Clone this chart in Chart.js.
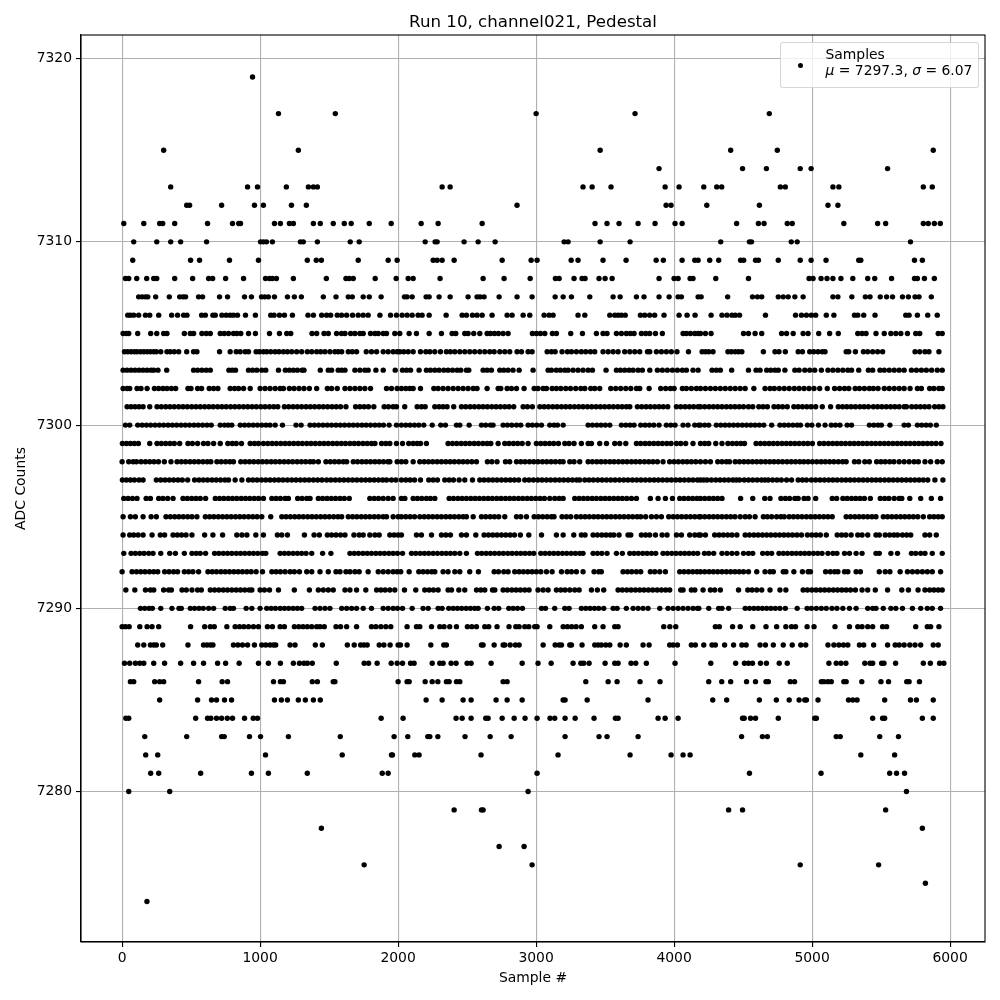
<!DOCTYPE html>
<html>
<head>
<meta charset="utf-8">
<script src="https://cdn.jsdelivr.net/npm/chart.js@4/dist/chart.umd.min.js"></script>
<style>
    html, body { margin: 0; padding: 0; background: #fff; }
    #wrap { position: relative; width: 1000px; height: 1000px; }
    #legend {
        position: absolute; left: 780px; top: 42px; width: 197px; height: 44px;
        border: 1px solid rgba(204, 204, 204, 0.8); border-radius: 3px;
        background: rgba(255, 255, 255, 0.8);
        font: 13.9px "DejaVu Sans", sans-serif; color: #000; line-height: 16px;
    }
    #legend .dot { position: absolute; left: 16.5px; top: 19.5px; width: 5.4px; height: 5.4px; border-radius: 50%; background: #000; }
    #legend .txt { position: absolute; left: 44.5px; top: 2.5px; white-space: nowrap; }
</style>
</head>
<body>
<div id="wrap">
    <canvas id="chart" width="1000" height="1000"></canvas>
    <div id="legend"><span class="dot"></span><div class="txt">Samples<br><i>μ</i> = 7297.3, <i>σ</i> = 6.07</div></div>
</div>
<script>
// Tick labels on the two axes
const xTicks = [0, 1000, 2000, 3000, 4000, 5000, 6000];
const yTicks = [7280, 7290, 7300, 7310, 7320];

// Sample numbers, one list per ADC count
const adc7319 = [945];
const adc7317 = [1133, 1545, 3000, 3717, 4690];
const adc7315 = [301, 1277, 3464, 4410, 4748, 5878];
const adc7314 = [3891, 4496, 4669, 4914, 4993, 5547];
const adc7313 = [352, 909, 981, 1190, 1350, 1386, 1415, 2319, 2377, 3340, 3406, 3543, 3935, 4036, 4215, 4309, 4345, 4770, 4806, 5151, 5194, 5806, 5871];
const adc7312 = [468, 489, 721, 959, 1024, 1227, 1335, 2862, 3942, 3978, 4237, 4618, 5115, 5187];
const adc7311 = [12, 157, 272, 294, 381, 619, 800, 845, 858, 1104, 1147, 1212, 1241, 1386, 1436, 1530, 1610, 1660, 1791, 1950, 2167, 2290, 2609, 3427, 3514, 3601, 3739, 3862, 4007, 4058, 4453, 4611, 4652, 4820, 4856, 5230, 5475, 5533, 5806, 5842, 5886, 5929];
const adc7310 = [84, 251, 352, 424, 612, 1003, 1024, 1046, 1089, 1292, 1313, 1415, 1653, 1718, 2196, 2268, 2283, 2478, 2580, 2703, 3203, 3232, 3464, 3681, 4338, 4546, 4561, 4849, 4892, 5713];
const adc7309 = [77, 496, 561, 778, 988, 1342, 1407, 1444, 1711, 1928, 1993, 2254, 2283, 2319, 2406, 2754, 2964, 3007, 3254, 3304, 3485, 3652, 3870, 3922, 4058, 4174, 4150, 4258, 4323, 4482, 4504, 4590, 4611, 4755, 4914, 4993, 5101, 5338, 5353, 5742, 5799];
const adc7308 = [24, 48, 106, 178, 229, 251, 381, 511, 627, 656, 750, 880, 1039, 1068, 1089, 1118, 1241, 1480, 1622, 1646, 1675, 1834, 1986, 2073, 2109, 2304, 2616, 2768, 2957, 3140, 3167, 3275, 3333, 3355, 3456, 3500, 3551, 3891, 4000, 4029, 4116, 4137, 4302, 4539, 4978, 5007, 5065, 5108, 5151, 5209, 5295, 5403, 5454, 5576, 5742, 5763, 5814, 5886];
const adc7307 = [120, 145, 169, 186, 243, 342, 417, 441, 460, 554, 583, 706, 764, 887, 937, 1010, 1034, 1060, 1104, 1198, 1248, 1299, 1458, 1550, 1639, 1668, 1747, 1791, 1877, 2046, 2065, 2102, 2203, 2225, 2297, 2377, 2507, 2572, 2594, 2623, 2732, 2862, 2971, 3138, 3196, 3256, 3389, 3558, 3609, 3727, 3782, 3891, 3964, 4029, 4053, 4174, 4196, 4388, 4568, 4604, 4635, 4755, 4791, 4827, 4875, 4935, 5151, 5187, 5288, 5386, 5420, 5494, 5540, 5583, 5655, 5698, 5746, 5775, 5864];
const adc7306 = [41, 60, 84, 120, 169, 200, 265, 359, 402, 446, 470, 576, 603, 658, 675, 723, 754, 783, 807, 836, 894, 966, 1077, 1101, 1140, 1176, 1234, 1347, 1386, 1446, 1482, 1511, 1559, 1590, 1627, 1670, 1711, 1747, 1783, 1868, 1945, 1988, 2029, 2065, 2102, 2145, 2174, 2225, 2348, 2464, 2495, 2539, 2572, 2609, 2681, 2790, 2826, 2906, 2954, 3058, 3094, 3123, 3304, 3353, 3534, 3570, 3594, 3618, 3646, 3756, 3787, 3823, 3859, 3927, 4036, 4094, 4152, 4268, 4347, 4383, 4419, 4443, 4474, 4662, 4880, 4923, 4959, 4995, 5026, 5103, 5158, 5307, 5331, 5374, 5456, 5679, 5703, 5763, 5838, 5907];
const adc7305 = [7, 31, 48, 113, 207, 251, 301, 325, 451, 494, 518, 578, 610, 639, 711, 740, 771, 807, 831, 860, 916, 966, 1068, 1140, 1193, 1222, 1376, 1410, 1463, 1494, 1554, 1590, 1615, 1656, 1687, 1723, 1747, 1800, 1832, 1856, 1892, 1916, 1976, 2012, 2080, 2133, 2225, 2314, 2391, 2418, 2483, 2507, 2548, 2592, 2645, 2669, 2698, 2727, 2761, 2797, 2973, 3002, 3031, 3063, 3118, 3147, 3251, 3336, 3437, 3485, 3514, 3582, 3618, 3654, 3683, 3710, 3763, 3794, 3823, 3865, 3915, 4065, 4089, 4118, 4150, 4174, 4191, 4227, 4268, 4503, 4539, 4587, 4635, 4779, 4815, 4863, 4935, 4971, 5048, 5127, 5190, 5331, 5362, 5391, 5463, 5523, 5571, 5607, 5643, 5691, 5751, 5780, 5914, 5943];
const adc7304 = [17, 41, 65, 89, 108, 133, 157, 181, 205, 229, 248, 280, 325, 349, 378, 410, 468, 518, 542, 706, 783, 827, 856, 892, 916, 971, 995, 1024, 1048, 1077, 1109, 1137, 1169, 1198, 1229, 1265, 1301, 1342, 1374, 1410, 1439, 1470, 1506, 1542, 1566, 1591, 1639, 1668, 1699, 1769, 1807, 1844, 1892, 1928, 1964, 1993, 2012, 2041, 2073, 2109, 2162, 2201, 2230, 2266, 2307, 2350, 2379, 2411, 2447, 2483, 2519, 2555, 2592, 2628, 2664, 2696, 2737, 2773, 2809, 2862, 2894, 2942, 2971, 3080, 3111, 3138, 3188, 3227, 3256, 3292, 3328, 3360, 3394, 3425, 3485, 3522, 3558, 3594, 3642, 3679, 3715, 3751, 3807, 3824, 3872, 3908, 3944, 3980, 4021, 4104, 4203, 4227, 4251, 4282, 4390, 4415, 4443, 4467, 4491, 4647, 4731, 4760, 4806, 4899, 4930, 4983, 5012, 5043, 5074, 5094, 5247, 5266, 5314, 5372, 5403, 5439, 5475, 5511, 5746, 5780, 5818, 5847, 5919];
const adc7303 = [7, 36, 65, 94, 123, 152, 181, 210, 229, 260, 323, 518, 547, 578, 610, 639, 774, 798, 822, 916, 945, 976, 1012, 1041, 1133, 1183, 1212, 1241, 1270, 1304, 1318, 1436, 1494, 1518, 1566, 1591, 1615, 1687, 1723, 1759, 1783, 1839, 1892, 1979, 2032, 2061, 2090, 2152, 2205, 2234, 2266, 2297, 2331, 2362, 2394, 2428, 2454, 2495, 2512, 2616, 2645, 2676, 2737, 2766, 2797, 2833, 2877, 2978, 3087, 3111, 3147, 3176, 3208, 3232, 3268, 3304, 3340, 3377, 3408, 3507, 3582, 3611, 3642, 3674, 3703, 3739, 3770, 3824, 3879, 3915, 3951, 3988, 4024, 4060, 4089, 4137, 4174, 4275, 4306, 4335, 4417, 4539, 4594, 4623, 4671, 4700, 4731, 4755, 4803, 4875, 4906, 4947, 4983, 5019, 5067, 5115, 5151, 5187, 5223, 5259, 5286, 5338, 5408, 5439, 5492, 5523, 5559, 5595, 5631, 5667, 5720, 5756, 5792, 5828, 5866, 5907, 5943];
const adc7302 = [7, 36, 55, 108, 137, 181, 234, 265, 296, 325, 357, 388, 477, 499, 547, 576, 631, 663, 694, 783, 815, 844, 880, 928, 1000, 1036, 1072, 1109, 1145, 1169, 1212, 1246, 1282, 1318, 1357, 1410, 1487, 1518, 1559, 1615, 1651, 1687, 1723, 1759, 1800, 1916, 1952, 1993, 2024, 2056, 2085, 2109, 2162, 2259, 2290, 2326, 2362, 2399, 2435, 2471, 2507, 2544, 2572, 2645, 2725, 2744, 2790, 2821, 2858, 2913, 2986, 3014, 3051, 3075, 3116, 3147, 3179, 3215, 3249, 3287, 3324, 3353, 3396, 3425, 3461, 3541, 3577, 3613, 3650, 3686, 3727, 3751, 3819, 3903, 3939, 3973, 4000, 4060, 4089, 4125, 4162, 4191, 4227, 4263, 4299, 4335, 4371, 4407, 4443, 4479, 4515, 4578, 4659, 4695, 4726, 4762, 4798, 4834, 4871, 4906, 4942, 4978, 5014, 5055, 5110, 5163, 5199, 5235, 5266, 5312, 5343, 5379, 5415, 5444, 5478, 5523, 5559, 5595, 5631, 5667, 5710, 5763, 5792, 5852, 5883, 5919, 5943];
const adc7301 = [36, 65, 94, 123, 152, 200, 253, 284, 316, 347, 378, 410, 441, 472, 504, 535, 566, 598, 629, 660, 692, 723, 754, 786, 817, 848, 880, 911, 942, 973, 1005, 1036, 1068, 1099, 1128, 1176, 1207, 1239, 1270, 1301, 1333, 1364, 1395, 1427, 1458, 1489, 1521, 1552, 1583, 1622, 1692, 1723, 1754, 1785, 1824, 1899, 1930, 1964, 1988, 2048, 2138, 2169, 2196, 2266, 2297, 2326, 2355, 2403, 2459, 2490, 2522, 2553, 2585, 2616, 2647, 2679, 2710, 2741, 2773, 2804, 2838, 2906, 2937, 2973, 3027, 3058, 3089, 3121, 3152, 3184, 3215, 3246, 3278, 3309, 3340, 3372, 3403, 3435, 3466, 3497, 3529, 3560, 3592, 3623, 3654, 3679, 3734, 3765, 3797, 3828, 3860, 3891, 3922, 3954, 4017, 4048, 4080, 4111, 4142, 4174, 4191, 4222, 4254, 4285, 4316, 4347, 4379, 4410, 4441, 4472, 4503, 4539, 4570, 4614, 4645, 4676, 4724, 4755, 4786, 4820, 4868, 4899, 4930, 4962, 4993, 5026, 5074, 5134, 5190, 5221, 5252, 5283, 5314, 5346, 5377, 5408, 5444, 5475, 5506, 5538, 5569, 5600, 5631, 5667, 5684, 5722, 5754, 5785, 5816, 5847, 5888, 5919, 5948];
const adc7300 = [24, 55, 113, 145, 176, 207, 239, 270, 301, 333, 364, 395, 427, 458, 489, 521, 552, 583, 615, 646, 711, 742, 769, 795, 856, 887, 918, 950, 981, 1012, 1043, 1072, 1109, 1162, 1260, 1297, 1362, 1393, 1424, 1456, 1487, 1518, 1550, 1581, 1612, 1644, 1675, 1706, 1738, 1769, 1800, 1832, 1863, 1894, 1935, 1988, 2024, 2056, 2087, 2119, 2150, 2186, 2247, 2309, 2343, 2423, 2447, 2515, 2604, 2635, 2669, 2688, 2761, 2792, 2824, 2858, 2889, 2942, 2973, 3005, 3039, 3099, 3130, 3155, 3196, 3377, 3408, 3440, 3471, 3502, 3534, 3618, 3650, 3681, 3710, 3758, 3790, 3821, 3853, 3891, 3944, 3976, 4007, 4065, 4101, 4150, 4179, 4191, 4222, 4251, 4306, 4338, 4369, 4400, 4431, 4462, 4494, 4525, 4556, 4587, 4618, 4650, 4707, 4767, 4798, 4829, 4861, 4892, 4916, 4966, 4998, 5046, 5094, 5139, 5170, 5202, 5254, 5286, 5415, 5447, 5478, 5502, 5564, 5667, 5698, 5763, 5794, 5826, 5857, 5900];
const adc7299 = [2, 31, 60, 89, 118, 200, 253, 284, 316, 347, 378, 417, 477, 509, 547, 590, 622, 663, 711, 766, 798, 827, 865, 928, 959, 988, 1024, 1056, 1087, 1118, 1150, 1181, 1212, 1244, 1275, 1306, 1338, 1369, 1400, 1432, 1463, 1494, 1526, 1557, 1588, 1619, 1651, 1682, 1713, 1745, 1776, 1807, 1832, 1880, 1911, 1940, 1988, 2032, 2077, 2109, 2138, 2162, 2205, 2362, 2394, 2425, 2457, 2488, 2519, 2551, 2582, 2614, 2645, 2672, 2725, 2773, 2804, 2836, 2867, 2899, 2942, 3002, 3034, 3065, 3097, 3128, 3162, 3208, 3239, 3275, 3328, 3377, 3401, 3461, 3510, 3570, 3606, 3650, 3727, 3758, 3790, 3821, 3853, 3884, 3915, 3947, 3978, 4017, 4048, 4084, 4137, 4191, 4222, 4251, 4302, 4347, 4390, 4422, 4453, 4484, 4510, 4594, 4626, 4657, 4688, 4719, 4750, 4782, 4813, 4844, 4875, 4906, 4938, 4969, 5002, 5055, 5086, 5118, 5149, 5180, 5211, 5242, 5274, 5305, 5336, 5367, 5398, 5430, 5461, 5492, 5523, 5554, 5586, 5617, 5648, 5679, 5710, 5742, 5773, 5804, 5835, 5866, 5898, 5934];
const adc7298 = [0, 48, 80, 104, 137, 169, 200, 231, 263, 306, 354, 398, 429, 460, 492, 523, 554, 586, 617, 643, 687, 718, 750, 781, 807, 860, 892, 923, 954, 986, 1017, 1048, 1080, 1111, 1142, 1174, 1205, 1236, 1268, 1299, 1330, 1362, 1386, 1422, 1477, 1509, 1540, 1571, 1603, 1627, 1675, 1706, 1738, 1769, 1800, 1832, 1863, 1894, 1926, 1940, 1993, 2024, 2056, 2109, 2157, 2189, 2220, 2251, 2283, 2314, 2346, 2377, 2408, 2440, 2471, 2502, 2534, 2568, 2647, 2679, 2717, 2778, 2809, 2858, 2889, 2920, 2952, 2983, 3014, 3046, 3077, 3109, 3140, 3172, 3196, 3244, 3275, 3316, 3377, 3408, 3440, 3471, 3502, 3534, 3565, 3597, 3628, 3659, 3691, 3722, 3753, 3785, 3816, 3847, 3879, 3920, 3968, 4000, 4031, 4063, 4094, 4125, 4157, 4191, 4227, 4263, 4316, 4347, 4379, 4402, 4443, 4474, 4506, 4537, 4568, 4599, 4630, 4662, 4693, 4724, 4755, 4786, 4818, 4849, 4880, 4911, 4940, 4971, 5002, 5034, 5066, 5096, 5127, 5158, 5190, 5221, 5247, 5307, 5338, 5382, 5415, 5468, 5499, 5530, 5562, 5593, 5631, 5667, 5703, 5739, 5770, 5818, 5859, 5907, 5943];
const adc7297 = [2, 31, 60, 89, 123, 152, 248, 280, 311, 342, 373, 405, 436, 475, 525, 557, 588, 619, 651, 682, 713, 745, 771, 819, 868, 916, 947, 978, 1010, 1041, 1072, 1104, 1135, 1166, 1198, 1229, 1260, 1292, 1323, 1354, 1386, 1417, 1448, 1482, 1513, 1545, 1576, 1607, 1639, 1670, 1701, 1733, 1764, 1795, 1827, 1858, 1889, 1916, 1952, 1984, 2024, 2056, 2087, 2119, 2162, 2222, 2254, 2285, 2338, 2370, 2401, 2442, 2483, 2539, 2592, 2623, 2655, 2686, 2717, 2749, 2780, 2812, 2843, 2874, 2918, 2949, 2981, 3012, 3043, 3075, 3106, 3138, 3169, 3200, 3232, 3263, 3294, 3316, 3353, 3384, 3415, 3447, 3478, 3510, 3541, 3572, 3604, 3635, 3666, 3698, 3729, 3760, 3792, 3823, 3855, 3886, 3917, 3949, 3980, 4012, 4043, 4074, 4106, 4137, 4169, 4191, 4215, 4239, 4270, 4302, 4333, 4364, 4395, 4426, 4450, 4474, 4508, 4539, 4570, 4602, 4633, 4659, 4683, 4714, 4746, 4777, 4815, 4851, 4899, 4930, 4959, 4995, 5026, 5058, 5089, 5120, 5151, 5182, 5214, 5245, 5276, 5307, 5338, 5370, 5401, 5432, 5463, 5494, 5526, 5557, 5588, 5619, 5650, 5682, 5713, 5744, 5775, 5806, 5838, 5890, 5948];
const adc7296 = [12, 43, 75, 108, 174, 205, 265, 296, 330, 369, 441, 472, 504, 535, 566, 605, 675, 706, 737, 769, 800, 831, 863, 894, 925, 957, 988, 1024, 1085, 1116, 1147, 1181, 1205, 1272, 1304, 1338, 1362, 1422, 1453, 1485, 1516, 1547, 1579, 1610, 1646, 1795, 1827, 1858, 1892, 1928, 1964, 2024, 2049, 2109, 2140, 2172, 2205, 2234, 2266, 2370, 2401, 2433, 2464, 2495, 2527, 2558, 2589, 2621, 2652, 2683, 2715, 2746, 2778, 2809, 2840, 2872, 2903, 2935, 2966, 2998, 3029, 3060, 3099, 3135, 3167, 3196, 3280, 3312, 3343, 3374, 3406, 3437, 3469, 3500, 3531, 3563, 3594, 3625, 3657, 3691, 3727, 3828, 3884, 3937, 3988, 4041, 4072, 4104, 4135, 4166, 4191, 4222, 4254, 4285, 4316, 4347, 4482, 4570, 4657, 4695, 4774, 4806, 4837, 4875, 4899, 4942, 4971, 5026, 5146, 5178, 5223, 5254, 5286, 5317, 5348, 5379, 5422, 5494, 5526, 5557, 5595, 5631, 5650, 5708, 5787, 5864, 5931];
const adc7295 = [7, 60, 96, 152, 210, 248, 318, 349, 381, 412, 443, 475, 506, 542, 603, 634, 665, 697, 728, 759, 790, 822, 853, 884, 916, 947, 978, 1012, 1077, 1157, 1188, 1219, 1251, 1282, 1313, 1345, 1376, 1407, 1439, 1470, 1501, 1533, 1564, 1591, 1639, 1670, 1701, 1733, 1764, 1795, 1827, 1858, 1892, 1916, 1964, 2000, 2024, 2056, 2087, 2119, 2157, 2189, 2220, 2251, 2283, 2314, 2346, 2377, 2408, 2440, 2471, 2495, 2544, 2604, 2635, 2667, 2698, 2729, 2773, 2858, 2889, 2930, 2986, 3017, 3048, 3080, 3111, 3130, 3188, 3220, 3251, 3292, 3324, 3355, 3386, 3418, 3449, 3481, 3512, 3543, 3575, 3606, 3637, 3669, 3700, 3732, 3758, 3794, 3836, 3872, 3908, 3961, 3993, 4024, 4055, 4087, 4118, 4150, 4181, 4191, 4222, 4254, 4285, 4316, 4347, 4379, 4410, 4441, 4479, 4515, 4546, 4587, 4647, 4676, 4707, 4743, 4774, 4798, 4834, 4865, 4896, 4927, 4959, 4990, 5022, 5053, 5084, 5115, 5146, 5247, 5278, 5310, 5341, 5372, 5403, 5434, 5463, 5516, 5547, 5578, 5610, 5641, 5672, 5703, 5734, 5766, 5806, 5852, 5883, 5914, 5943];
const adc7294 = [7, 55, 84, 116, 152, 217, 277, 308, 369, 400, 431, 463, 506, 598, 658, 728, 831, 868, 904, 969, 1024, 1125, 1157, 1198, 1321, 1391, 1429, 1487, 1518, 1550, 1583, 1615, 1680, 1718, 1747, 1795, 1832, 1863, 1940, 1971, 2000, 2024, 2133, 2169, 2242, 2314, 2346, 2379, 2459, 2495, 2563, 2623, 2655, 2686, 2717, 2749, 2780, 2812, 2843, 2886, 2947, 3039, 3147, 3196, 3273, 3328, 3355, 3413, 3444, 3476, 3507, 3538, 3563, 3601, 3666, 3686, 3763, 3794, 3823, 3865, 3913, 3949, 4017, 4053, 4113, 4150, 4179, 4191, 4227, 4294, 4326, 4357, 4388, 4419, 4455, 4515, 4546, 4578, 4609, 4640, 4671, 4702, 4734, 4765, 4796, 4827, 4858, 4890, 4923, 4966, 4998, 5029, 5060, 5103, 5182, 5214, 5245, 5283, 5331, 5362, 5403, 5463, 5487, 5530, 5562, 5593, 5619, 5655, 5686, 5715, 5818, 5852, 5900];
const adc7293 = [12, 65, 96, 128, 159, 193, 224, 280, 345, 386, 451, 506, 537, 566, 605, 670, 701, 733, 764, 795, 827, 858, 889, 921, 952, 983, 1017, 1041, 1145, 1176, 1207, 1239, 1270, 1301, 1333, 1374, 1453, 1513, 1651, 1682, 1713, 1745, 1776, 1807, 1839, 1870, 1901, 1933, 1964, 1995, 2032, 2097, 2128, 2160, 2191, 2222, 2254, 2285, 2317, 2348, 2379, 2411, 2447, 2495, 2575, 2606, 2638, 2669, 2700, 2732, 2763, 2795, 2826, 2858, 2889, 2920, 2952, 2983, 3034, 3065, 3097, 3128, 3159, 3191, 3222, 3254, 3285, 3316, 3340, 3413, 3444, 3476, 3514, 3582, 3625, 3679, 3710, 3741, 3773, 3804, 3836, 3867, 3920, 3951, 3983, 4014, 4046, 4077, 4108, 4140, 4171, 4220, 4251, 4287, 4347, 4383, 4419, 4455, 4503, 4539, 4570, 4642, 4676, 4707, 4760, 4791, 4822, 4854, 4885, 4916, 4947, 4978, 5010, 5041, 5072, 5115, 5151, 5180, 5235, 5271, 5319, 5362, 5463, 5487, 5571, 5619, 5720, 5751, 5787, 5818, 5871, 5943];
const adc7292 = [0, 72, 104, 135, 166, 198, 229, 258, 308, 340, 373, 402, 451, 482, 513, 554, 622, 653, 684, 716, 747, 778, 810, 841, 872, 904, 935, 971, 1017, 1085, 1116, 1147, 1181, 1217, 1248, 1285, 1338, 1374, 1434, 1494, 1550, 1579, 1622, 1651, 1687, 1718, 1783, 1856, 1892, 1928, 1964, 1993, 2019, 2080, 2150, 2181, 2213, 2244, 2266, 2326, 2362, 2411, 2447, 2519, 2582, 2696, 2727, 2766, 2797, 2845, 2877, 2908, 2940, 2971, 3002, 3034, 3075, 3116, 3184, 3225, 3256, 3292, 3340, 3420, 3454, 3473, 3630, 3662, 3693, 3727, 3758, 3828, 3860, 3896, 3937, 4041, 4072, 4104, 4135, 4166, 4191, 4222, 4254, 4285, 4316, 4347, 4379, 4410, 4441, 4472, 4503, 4539, 4599, 4659, 4695, 4719, 4791, 4810, 4868, 4930, 4971, 4988, 5098, 5132, 5163, 5187, 5235, 5259, 5319, 5350, 5487, 5530, 5564, 5638, 5691, 5727, 5763, 5799, 5835, 5871, 5931];
const adc7291 = [27, 92, 169, 205, 229, 301, 337, 357, 434, 465, 506, 547, 574, 639, 670, 701, 733, 764, 795, 827, 858, 889, 921, 940, 1000, 1031, 1068, 1133, 1248, 1357, 1422, 1458, 1494, 1530, 1615, 1651, 1699, 1766, 1844, 1875, 1906, 1940, 1976, 2046, 2128, 2193, 2225, 2256, 2290, 2362, 2387, 2440, 2483, 2568, 2599, 2628, 2684, 2701, 2761, 2792, 2824, 2855, 2886, 2918, 2949, 3014, 3051, 3087, 3147, 3179, 3210, 3244, 3280, 3312, 3401, 3444, 3490, 3594, 3625, 3657, 3688, 3720, 3751, 3782, 3814, 3845, 3877, 3908, 3939, 3968, 4048, 4065, 4125, 4150, 4210, 4263, 4294, 4335, 4467, 4534, 4565, 4599, 4635, 4695, 4767, 4810, 4935, 4966, 4998, 5029, 5060, 5091, 5122, 5154, 5185, 5216, 5247, 5278, 5314, 5362, 5403, 5458, 5547, 5650, 5698, 5768, 5818, 5852, 5883, 5914, 5943];
const adc7290 = [133, 164, 195, 219, 280, 361, 412, 429, 494, 525, 557, 588, 627, 663, 747, 783, 807, 899, 940, 1000, 1048, 1080, 1111, 1145, 1176, 1207, 1239, 1270, 1301, 1398, 1434, 1470, 1506, 1591, 1627, 1663, 1699, 1747, 1807, 1892, 1928, 1964, 1995, 2032, 2102, 2181, 2218, 2290, 2319, 2367, 2399, 2430, 2461, 2493, 2524, 2555, 2580, 2647, 2696, 2729, 2802, 2833, 2865, 2901, 3039, 3068, 3135, 3208, 3239, 3328, 3360, 3391, 3423, 3454, 3490, 3558, 3587, 3654, 3703, 3739, 3775, 3811, 3896, 3956, 3993, 4029, 4065, 4101, 4137, 4169, 4179, 4251, 4323, 4347, 4395, 4515, 4546, 4578, 4609, 4640, 4671, 4702, 4734, 4767, 4806, 4892, 4964, 4995, 5031, 5067, 5103, 5144, 5180, 5223, 5271, 5319, 5403, 5439, 5463, 5516, 5571, 5607, 5655, 5727, 5787, 5835, 5871, 5931];
const adc7289 = [0, 24, 51, 128, 181, 217, 265, 496, 598, 639, 668, 759, 819, 851, 882, 916, 952, 988, 1053, 1089, 1145, 1176, 1248, 1280, 1311, 1342, 1374, 1410, 1434, 1465, 1550, 1583, 1627, 1699, 1807, 1839, 1875, 1911, 1947, 2065, 2133, 2157, 2242, 2302, 2333, 2374, 2423, 2502, 2534, 2568, 2628, 2657, 2717, 2804, 2853, 2877, 2918, 2947, 2990, 3007, 3099, 3196, 3227, 3258, 3290, 3328, 3425, 3485, 3570, 3594, 3925, 3969, 4012, 4299, 4328, 4424, 4479, 4570, 4666, 4743, 4810, 4851, 4880, 4964, 5014, 5166, 5271, 5331, 5362, 5403, 5439, 5511, 5540, 5751, 5835, 5859, 5919];
const adc7288 = [113, 157, 205, 229, 248, 294, 477, 590, 615, 639, 658, 807, 839, 872, 909, 959, 1012, 1041, 1072, 1097, 1113, 1217, 1253, 1400, 1451, 1632, 1682, 1728, 1752, 1776, 1863, 1897, 1942, 2000, 2017, 2065, 2237, 2331, 2350, 2604, 2616, 2696, 2761, 2773, 2812, 2850, 2877, 3051, 3138, 3167, 3184, 3244, 3256, 3333, 3425, 3449, 3473, 3505, 3534, 3609, 3654, 3775, 3819, 3968, 3993, 4024, 4125, 4154, 4215, 4275, 4299, 4366, 4431, 4491, 4522, 4623, 4662, 4719, 4791, 4856, 4918, 4954, 5115, 5158, 5194, 5228, 5259, 5343, 5374, 5446, 5547, 5602, 5631, 5667, 5708, 5746, 5787, 5878, 5914];
const adc7287 = [17, 55, 96, 128, 157, 229, 308, 424, 518, 590, 692, 750, 848, 988, 1060, 1147, 1241, 1285, 1318, 1342, 1378, 1552, 1754, 1786, 1848, 1950, 1993, 2032, 2090, 2116, 2247, 2302, 2326, 2384, 2420, 2500, 2529, 2674, 2899, 3014, 3109, 3268, 3324, 3345, 3384, 3500, 3570, 3594, 3688, 3722, 3799, 4007, 4266, 4446, 4510, 4539, 4568, 4626, 4669, 4762, 4820, 5122, 5175, 5209, 5245, 5382, 5420, 5439, 5504, 5521, 5605, 5806, 5857, 5924, 5955];
const adc7286 = [60, 84, 236, 272, 301, 554, 725, 764, 1097, 1147, 1169, 1378, 1415, 1530, 1542, 2000, 2065, 2080, 2196, 2247, 2288, 2350, 2370, 2423, 2447, 2761, 2790, 3360, 3522, 3587, 3753, 3898, 4251, 4345, 4410, 4525, 4590, 4666, 4683, 4842, 4873, 5067, 5086, 5115, 5139, 5230, 5247, 5360, 5499, 5554, 5686, 5703, 5778];
const adc7285 = [272, 547, 648, 684, 742, 793, 1104, 1154, 1198, 1277, 1328, 1386, 1436, 2203, 2319, 2471, 2529, 2710, 2790, 2899, 3196, 3210, 3370, 3811, 4280, 4381, 4618, 4741, 4834, 4906, 4947, 4959, 5043, 5264, 5295, 5326, 5526, 5713, 5756, 5878];
const adc7284 = [27, 48, 533, 619, 643, 684, 721, 762, 800, 887, 950, 981, 1877, 2036, 2420, 2464, 2529, 2635, 2652, 2754, 2841, 2920, 3007, 3101, 3135, 3210, 3283, 3420, 3575, 3594, 3884, 3935, 4029, 4496, 4508, 4554, 4590, 4755, 5019, 5031, 5439, 5511, 5526, 5799, 5878];
const adc7283 = [164, 468, 721, 740, 923, 1003, 1205, 1581, 1971, 2070, 2215, 2230, 2288, 2485, 2667, 2819, 3210, 3456, 3514, 3739, 4489, 4640, 4676, 5175, 5204, 5490, 5626];
const adc7282 = [171, 258, 1039, 1595, 1952, 1959, 2121, 2152, 2601, 3159, 3681, 3978, 4065, 4116, 5353, 5598];
const adc7281 = [207, 265, 569, 937, 1060, 1342, 1885, 1928, 3007, 4546, 5065, 5562, 5612, 5670];
const adc7280 = [48, 345, 2942, 5684];
const adc7279 = [2406, 2604, 2616, 4395, 4496, 5533];
const adc7278 = [1444, 5799];
const adc7277 = [2732, 2913];
const adc7276 = [1754, 2971, 4914, 5482];
const adc7275 = [5821];
const adc7274 = [180];

const adcLevels = [
    [7319, adc7319], [7317, adc7317], [7315, adc7315], [7314, adc7314], [7313, adc7313], [7312, adc7312],
    [7311, adc7311], [7310, adc7310], [7309, adc7309], [7308, adc7308], [7307, adc7307], [7306, adc7306],
    [7305, adc7305], [7304, adc7304], [7303, adc7303], [7302, adc7302], [7301, adc7301], [7300, adc7300],
    [7299, adc7299], [7298, adc7298], [7297, adc7297], [7296, adc7296], [7295, adc7295], [7294, adc7294],
    [7293, adc7293], [7292, adc7292], [7291, adc7291], [7290, adc7290], [7289, adc7289], [7288, adc7288],
    [7287, adc7287], [7286, adc7286], [7285, adc7285], [7284, adc7284], [7283, adc7283], [7282, adc7282],
    [7281, adc7281], [7280, adc7280], [7279, adc7279], [7278, adc7278], [7277, adc7277], [7276, adc7276],
    [7275, adc7275], [7274, adc7274]
];

const points = adcLevels.flatMap(([adc, samples]) => samples.map(s => ({ x: s, y: adc })));

// Frame on all four sides, the axes only draw two
const frame = {
    id: 'frame',
    afterDatasetsDraw(chart) {
        const { ctx, chartArea: a } = chart;
        ctx.save();
        ctx.strokeStyle = '#000';
        ctx.lineWidth = 1.1;
        ctx.strokeRect(a.left, a.top, a.right - a.left, a.bottom - a.top);
        ctx.restore();
    }
};

const font = { family: '"DejaVu Sans", sans-serif', size: 13.9 };

new Chart(document.getElementById('chart').getContext('2d'), {
    type: 'scatter',
    data: {
        datasets: [{
            label: 'Samples',
            data: points,
            pointRadius: 2.7,
            pointHoverRadius: 2.7,
            pointBackgroundColor: '#000',
            pointBorderWidth: 0,
            showLine: false
        }]
    },
    options: {
        responsive: false,
        animation: false,
        layout: { padding: { left: 0, right: 15, top: 0, bottom: 0 } },
        plugins: {
            legend: { display: false },
            tooltip: { enabled: false },
            title: {
                display: true,
                text: 'Run 10, channel021, Pedestal',
                color: '#000',
                fullSize: false,
                font: { family: font.family, size: 16.67, weight: 'normal', lineHeight: 1.2 },
                padding: { top: 13, bottom: 2 }
            }
        },
        scales: {
            x: {
                type: 'linear',
                min: -298,
                max: 6253,
                afterFit: s => { s.height = 58; },
                afterBuildTicks: s => { s.ticks = xTicks.map(v => ({ value: v })); },
                grid: { color: '#b0b0b0', lineWidth: 1.1, tickColor: '#000', tickLength: 5, tickWidth: 1.1 },
                border: { color: '#000', width: 1.1 },
                ticks: { autoSkip: false, color: '#000', font, padding: 3, maxRotation: 0, callback: v => String(v) },
                title: { display: true, text: 'Sample #', color: '#000', font, padding: { top: 0, bottom: 13 } }
            },
            y: {
                type: 'linear',
                min: 7271.79,
                max: 7321.29,
                afterFit: s => { s.width = 81; },
                afterBuildTicks: s => { s.ticks = yTicks.map(v => ({ value: v })); },
                grid: { color: '#b0b0b0', lineWidth: 1.1, tickColor: '#000', tickLength: 5, tickWidth: 1.1 },
                border: { color: '#000', width: 1.1 },
                ticks: { autoSkip: false, color: '#000', font, padding: 4, callback: v => String(v) },
                title: { display: true, text: 'ADC Counts', color: '#000', font, padding: { top: 13, bottom: 0 } }
            }
        }
    },
    plugins: [frame]
});
</script>
</body>
</html>
